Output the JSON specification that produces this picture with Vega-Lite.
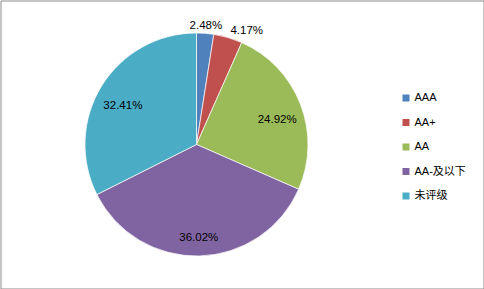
{
  "$schema": "https://vega.github.io/schema/vega-lite/v6.json",
  "width": 483,
  "height": 288,
  "padding": 0.5,
  "autosize": {"type": "none"},
  "background": "white",
  "view": {"stroke": "#8a8a8a", "strokeWidth": 1},
  "config": {
    "view": {"stroke": "#8a8a8a", "strokeWidth": 1},
    "font": "Liberation Sans, Noto Sans CJK SC"
  },
  "data": {
    "values": [
      {"category": "AAA", "value": 0.0248},
      {"category": "AA+", "value": 0.0417},
      {"category": "AA", "value": 0.2492},
      {"category": "AA-及以下", "value": 0.3602},
      {"category": "未评级", "value": 0.3241}
    ]
  },
  "transform": [{"window": [{"op": "row_number", "as": "idx"}]}],
  "encoding": {
    "theta": {"field": "value", "type": "quantitative", "stack": true},
    "order": {"field": "idx", "type": "quantitative"}
  },
  "layer": [
    {
      "mark": {"type": "arc", "outerRadius": 111.5, "stroke": "white", "strokeWidth": 0.7, "xOffset": -45.5},
      "encoding": {
        "color": {
          "field": "category",
          "type": "nominal",
          "scale": {
            "domain": ["AAA", "AA+", "AA", "AA-及以下", "未评级"],
            "range": ["#4F81BD", "#C0504D", "#9BBB59", "#8064A2", "#4BACC6"]
          },
          "legend": {
            "title": null,
            "orient": "none",
            "legendX": 400,
            "legendY": 92,
            "symbolType": "square",
            "symbolSize": 49,
            "symbolStrokeWidth": 0,
            "labelFontSize": 11,
            "labelColor": "#000000",
            "labelFont": "Liberation Sans, Noto Sans CJK SC",
            "rowPadding": 12.5,
            "labelOffset": 3
          }
        }
      }
    },
    {
      "mark": {"type": "text", "radius": 86.5, "dy": 7, "fontSize": 11.5, "color": "#000000", "xOffset": -45.5},
      "encoding": {
        "text": {"field": "value", "type": "quantitative", "format": ".2%"},
        "opacity": {"condition": {"test": "datum.value >= 0.05", "value": 1}, "value": 0}
      }
    },
    {
      "mark": {"type": "text", "radius": 121, "dy": 2, "fontSize": 11.5, "color": "#000000", "xOffset": -45.5},
      "encoding": {
        "text": {"field": "value", "type": "quantitative", "format": ".2%"},
        "opacity": {"condition": {"test": "datum.value < 0.03", "value": 1}, "value": 0}
      }
    },
    {
      "mark": {"type": "text", "radius": 120, "dy": 2, "align": "left", "fontSize": 11.5, "color": "#000000", "xOffset": -45.5},
      "encoding": {
        "text": {"field": "value", "type": "quantitative", "format": ".2%"},
        "opacity": {"condition": {"test": "datum.value >= 0.03 && datum.value < 0.05", "value": 1}, "value": 0}
      }
    }
  ]
}
